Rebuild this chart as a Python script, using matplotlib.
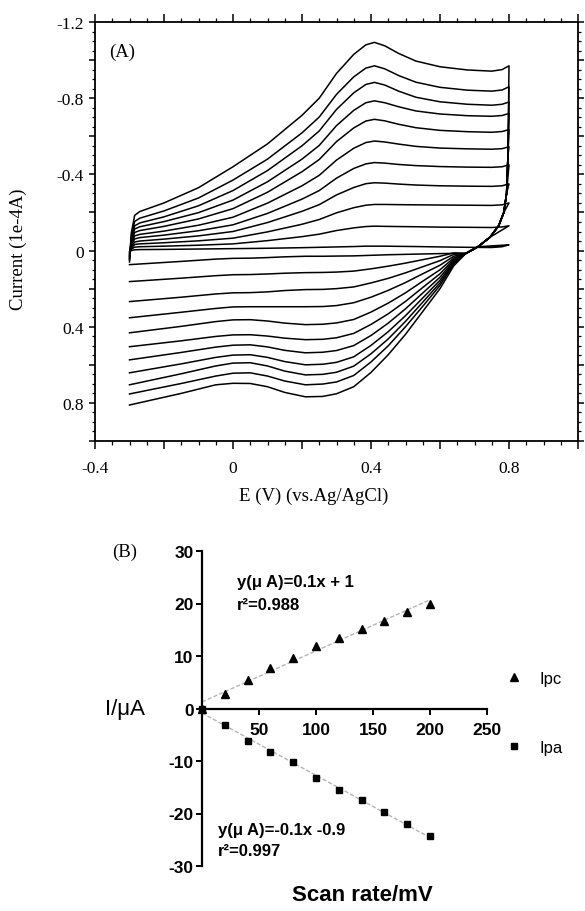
import numpy as np
import matplotlib
matplotlib.use("Agg")
import matplotlib.pyplot as plt
from matplotlib.ticker import MultipleLocator, FuncFormatter

plt.rcParams['axes.unicode_minus'] = False

# ---------------------------
# (A) cyclic voltammograms, current in 1e-4 A
# ---------------------------
e_forward = [-0.30, -0.295, -0.285, -0.27, -0.20, -0.10, 0.00, 0.10, 0.20, 0.25, 0.30,
             0.35, 0.385, 0.41, 0.44, 0.48, 0.53, 0.60, 0.68, 0.75, 0.78, 0.80]
i_forward = [
    [0.005, 0.0, -0.004, -0.005, -0.006, -0.008, -0.01, -0.012, -0.015, -0.017, -0.019, -0.021, -0.023, -0.023, -0.023, -0.022, -0.021, -0.019, -0.017, -0.016, -0.02, -0.03],
    [0.01, -0.007, -0.018, -0.02, -0.023, -0.028, -0.035, -0.052, -0.073, -0.086, -0.105, -0.119, -0.126, -0.128, -0.127, -0.126, -0.125, -0.123, -0.122, -0.121, -0.124, -0.13],
    [0.015, -0.012, -0.032, -0.035, -0.041, -0.051, -0.065, -0.098, -0.138, -0.163, -0.198, -0.225, -0.238, -0.242, -0.242, -0.241, -0.24, -0.239, -0.238, -0.237, -0.24, -0.25],
    [0.02, -0.019, -0.045, -0.05, -0.06, -0.077, -0.10, -0.147, -0.206, -0.241, -0.292, -0.331, -0.351, -0.356, -0.354, -0.349, -0.344, -0.34, -0.338, -0.337, -0.34, -0.35],
    [0.025, -0.026, -0.061, -0.068, -0.081, -0.104, -0.135, -0.195, -0.27, -0.315, -0.38, -0.431, -0.455, -0.462, -0.459, -0.452, -0.446, -0.441, -0.438, -0.437, -0.44, -0.45],
    [0.03, -0.033, -0.077, -0.085, -0.102, -0.133, -0.175, -0.249, -0.34, -0.395, -0.475, -0.537, -0.567, -0.575, -0.57, -0.559, -0.547, -0.538, -0.534, -0.532, -0.535, -0.545],
    [0.035, -0.042, -0.095, -0.105, -0.127, -0.166, -0.22, -0.306, -0.414, -0.478, -0.572, -0.644, -0.68, -0.689, -0.681, -0.663, -0.645, -0.631, -0.624, -0.621, -0.625, -0.635],
    [0.04, -0.051, -0.113, -0.125, -0.152, -0.199, -0.265, -0.361, -0.48, -0.552, -0.656, -0.736, -0.776, -0.786, -0.776, -0.755, -0.733, -0.717, -0.708, -0.705, -0.709, -0.72],
    [0.045, -0.06, -0.13, -0.145, -0.177, -0.235, -0.315, -0.42, -0.55, -0.628, -0.741, -0.828, -0.872, -0.883, -0.869, -0.837, -0.805, -0.781, -0.768, -0.763, -0.768, -0.78],
    [0.05, -0.071, -0.153, -0.17, -0.208, -0.276, -0.37, -0.48, -0.618, -0.701, -0.82, -0.912, -0.958, -0.97, -0.954, -0.919, -0.884, -0.857, -0.842, -0.837, -0.843, -0.86],
    [0.06, -0.09, -0.185, -0.205, -0.25, -0.33, -0.44, -0.56, -0.71, -0.80, -0.93, -1.03, -1.08, -1.093, -1.075, -1.035, -0.995, -0.965, -0.948, -0.942, -0.95, -0.97],
]

# switching segment near 0.8 V (shared by all scans)
e_switch = [0.797, 0.793, 0.785, 0.77, 0.745, 0.71]
i_switch = [-0.5, -0.3, -0.2, -0.13, -0.07, -0.02]

e_reverse = [0.675, 0.64, 0.6, 0.55, 0.5, 0.45, 0.4, 0.35, 0.3, 0.26, 0.21,
             0.15, 0.1, 0.05, 0.0, -0.05, -0.15, -0.3]
i_reverse = [
    [0.015, 0.015, 0.016, 0.018, 0.02, 0.022, 0.025, 0.028, 0.029, 0.03, 0.03, 0.033, 0.037, 0.04, 0.041, 0.045, 0.057, 0.074],
    [0.015, 0.012, 0.03, 0.048, 0.066, 0.082, 0.096, 0.108, 0.113, 0.115, 0.116, 0.119, 0.123, 0.126, 0.127, 0.132, 0.145, 0.163],
    [0.015, 0.02, 0.053, 0.085, 0.117, 0.146, 0.17, 0.191, 0.20, 0.204, 0.205, 0.21, 0.217, 0.221, 0.222, 0.228, 0.245, 0.268],
    [0.015, 0.03, 0.077, 0.122, 0.168, 0.209, 0.245, 0.274, 0.289, 0.294, 0.295, 0.295, 0.295, 0.295, 0.296, 0.304, 0.324, 0.353],
    [0.015, 0.039, 0.101, 0.161, 0.222, 0.276, 0.323, 0.362, 0.38, 0.387, 0.389, 0.381, 0.37, 0.363, 0.364, 0.373, 0.398, 0.432],
    [0.015, 0.047, 0.122, 0.194, 0.267, 0.332, 0.388, 0.435, 0.458, 0.466, 0.468, 0.46, 0.449, 0.442, 0.443, 0.451, 0.474, 0.505],
    [0.015, 0.054, 0.14, 0.223, 0.306, 0.381, 0.446, 0.499, 0.525, 0.534, 0.537, 0.524, 0.506, 0.495, 0.497, 0.507, 0.535, 0.574],
    [0.015, 0.06, 0.156, 0.249, 0.342, 0.426, 0.498, 0.558, 0.587, 0.597, 0.60, 0.583, 0.561, 0.547, 0.549, 0.561, 0.595, 0.642],
    [0.015, 0.065, 0.17, 0.271, 0.372, 0.464, 0.542, 0.607, 0.639, 0.65, 0.653, 0.633, 0.606, 0.589, 0.591, 0.606, 0.647, 0.705],
    [0.015, 0.07, 0.183, 0.293, 0.40, 0.50, 0.585, 0.656, 0.69, 0.701, 0.705, 0.685, 0.659, 0.642, 0.644, 0.659, 0.698, 0.753],
    [0.015, 0.08, 0.2, 0.32, 0.44, 0.547, 0.64, 0.715, 0.752, 0.766, 0.768, 0.745, 0.715, 0.698, 0.697, 0.705, 0.75, 0.811],
]

# ---------------------------
# (B) peak current vs scan rate
# ---------------------------
scan_rate = [0, 20, 40, 60, 80, 100, 120, 140, 160, 180, 200]
ipc = [0, 2.8, 5.4, 7.7, 9.6, 11.9, 13.4, 15.1, 16.6, 18.4, 19.9]
ipa = [0, -3.2, -6.1, -8.3, -10.1, -13.3, -15.5, -17.5, -19.8, -22.0, -24.2]

SERIF = "Liberation Serif"
SANS = "Liberation Sans"

fig = plt.figure(figsize=(5.85, 9.12), dpi=100)

# ---------------------------
# panel A
# ---------------------------
ax1 = fig.add_axes([95 / 585, 1 - 442 / 912, 483 / 585, 419 / 912])

for k in range(len(i_forward)):
    end_i = i_forward[k][-1]
    sw_e = [e for e, i in zip(e_switch, i_switch) if i > end_i]
    sw_i = [i for i in i_switch if i > end_i]
    xs = e_forward + sw_e + e_reverse
    ys = i_forward[k] + sw_i + i_reverse[k]
    ax1.plot(xs, ys, color="black", lw=1.1, solid_joinstyle="round")

ax1.set_xlim(-0.4, 1.0)
ax1.set_ylim(1.0, -1.2)

ax1.xaxis.set_major_locator(MultipleLocator(0.2))
ax1.xaxis.set_minor_locator(MultipleLocator(0.05))
ax1.yaxis.set_major_locator(MultipleLocator(0.2))
ax1.yaxis.set_minor_locator(MultipleLocator(0.05))


def every_other(v, pos):
    if abs(round(v / 0.4) * 0.4 - v) > 1e-6:
        return ""
    if abs(v) < 1e-9:
        return "0"
    return f"{v:.1f}"


ax1.xaxis.set_major_formatter(FuncFormatter(every_other))
ax1.yaxis.set_major_formatter(FuncFormatter(every_other))

ax1.tick_params(axis="x", which="major", direction="out", length=6, width=1.1,
                top=True, pad=8, labelsize=12.5)
ax1.tick_params(axis="x", which="minor", direction="out", length=3, width=0.9, top=True)
ax1.tick_params(axis="y", which="major", direction="out", length=4, width=1.1,
                right=True, pad=4, labelsize=12.5)
ax1.tick_params(axis="y", which="minor", direction="out", length=2.5, width=0.9, right=True)
for lab in ax1.get_xticklabels() + ax1.get_yticklabels():
    lab.set_fontfamily(SERIF)
for sp in ax1.spines.values():
    sp.set_linewidth(1.3)

ax1.set_xlabel("E (V) (vs.Ag/AgCl)", fontfamily=SERIF, fontsize=13.5)
ax1.xaxis.set_label_coords(0.453, -0.11)
ax1.set_ylabel("Current (1e-4A)", fontfamily=SERIF, fontsize=13.5)
ax1.yaxis.set_label_coords(-0.141, 0.46)
ax1.text(0.03, 0.93, "(A)", transform=ax1.transAxes, fontfamily=SERIF,
         fontsize=13.5, va="center")

# ---------------------------
# panel B
# ---------------------------
ax2 = fig.add_axes([202 / 585, 1 - 867 / 912, 285 / 585, 315 / 912])

x_fit = np.array([0, 200])
p_c = np.polyfit(scan_rate, ipc, 1)
p_a = np.polyfit(scan_rate, ipa, 1)
ax2.plot(x_fit, np.polyval(p_c, x_fit), color="#b5b5b5", lw=1.0, ls=(0, (3, 1.5)))
ax2.plot(x_fit, np.polyval(p_a, x_fit), color="#b5b5b5", lw=1.0, ls=(0, (3, 1.5)))

ax2.plot(scan_rate, ipc, "^", color="black", ms=6, clip_on=False, label="Ipc")
ax2.plot(scan_rate, ipa, "s", color="black", ms=5, clip_on=False, label="Ipa")

ax2.set_xlim(0, 250)
ax2.set_ylim(-30, 30)
ax2.spines["top"].set_visible(False)
ax2.spines["right"].set_visible(False)
ax2.spines["bottom"].set_position(("data", 0))
ax2.spines["left"].set_linewidth(1.6)
ax2.spines["bottom"].set_linewidth(1.6)
ax2.set_xticks([50, 100, 150, 200, 250])
ax2.set_yticks([-30, -20, -10, 0, 10, 20, 30])
ax2.tick_params(axis="both", direction="out", length=4, width=1.4, labelsize=12.5)
ax2.tick_params(axis="x", pad=6)
ax2.tick_params(axis="y", pad=2)
for lab in ax2.get_xticklabels() + ax2.get_yticklabels():
    lab.set_fontfamily(SANS)
    lab.set_fontweight("bold")

ax2.text(31, 24.2, "y(\u03bc A)=0.1x + 1", fontfamily=SANS, fontweight="bold",
         fontsize=12, va="center")
ax2.text(31, 19.8, "r\u00b2=0.988", fontfamily=SANS, fontweight="bold",
         fontsize=12, va="center")
ax2.text(14, -23.0, "y(\u03bc A)=-0.1x -0.9", fontfamily=SANS, fontweight="bold",
         fontsize=12, va="center")
ax2.text(14, -27.0, "r\u00b2=0.997", fontfamily=SANS, fontweight="bold",
         fontsize=12, va="center")

ax2.text(-0.342, 0.5, "I/\u03bcA", transform=ax2.transAxes, fontfamily=SANS,
         fontsize=16, va="center", ha="left")
fig.text(362 / 585, 1 - 896 / 912, "Scan rate/mV", fontfamily=SANS,
         fontweight="bold", fontsize=16, ha="center", va="center")
fig.text(112 / 585, 1 - 552 / 912, "(B)", fontfamily=SERIF, fontsize=13.5,
         va="center")

ax2.legend(loc="center left", bbox_to_anchor=(1.02, 0.486), frameon=False,
           labelspacing=3.2, handlelength=0.8, handletextpad=1.1,
           prop={"family": SANS, "size": 12})

fig.savefig("out.png", dpi=100)
